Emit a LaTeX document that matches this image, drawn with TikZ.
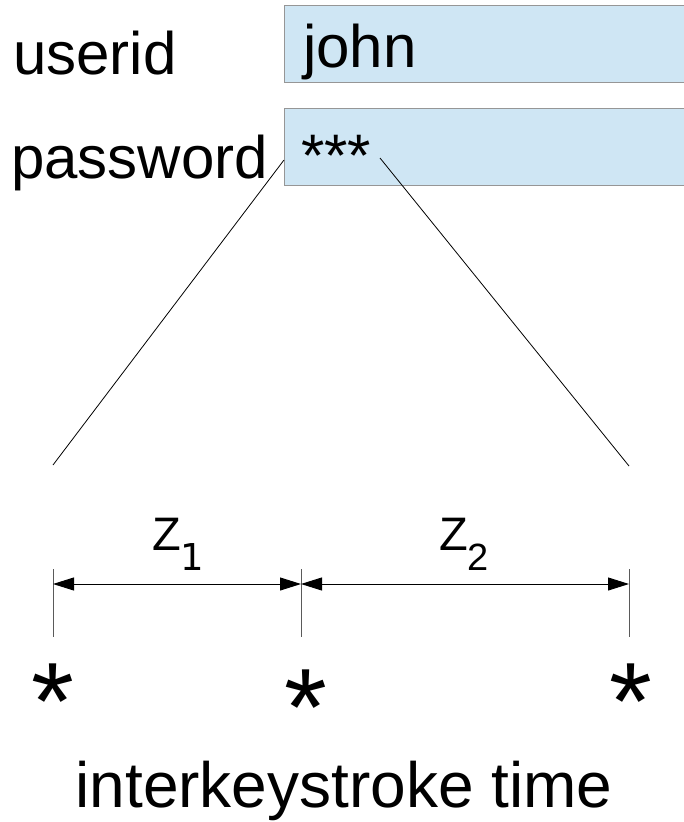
\documentclass[tikz,border=0pt]{standalone}
\usepackage{fontspec}
\setmainfont{Liberation Sans}
\newfontfamily\dejavu{DejaVu Sans}
\usetikzlibrary{arrows.meta}
\definecolor{fieldfill}{RGB}{207,230,244}
\definecolor{fieldedge}{RGB}{150,150,150}
\definecolor{tickgray}{RGB}{90,90,90}
\newcommand{\fsz}[1]{\fontsize{#1}{#1}\selectfont}
\begin{document}
\begin{tikzpicture}[x=1pt,y=-1pt,
  lbl/.style={inner sep=0pt,anchor=base west,font=\fsz{60}},
  field/.style={fill=fieldfill,inner sep=0pt,minimum width=400pt,minimum height=77pt,anchor=north west},
  fieldedge/.style={draw=fieldedge,line width=1pt},
  tick/.style={draw=tickgray,line width=1pt},
  dim/.style={line width=1pt,{Triangle[length=21pt,width=13pt]}-{Triangle[length=21pt,width=13pt]}},
  star/.style={inner sep=0pt,anchor=base,font=\fsz{110}},
  zlbl/.style={inner sep=0pt,anchor=base west,font=\fsz{47}}]
\useasboundingbox (0,0) rectangle (684,822);

% input fields (open on the right)
\node[field] (userbox) at (284,5) {};
\node[field] (passbox) at (284,108) {};
\draw[fieldedge] (userbox.north east) -- (userbox.north west) -- (userbox.south west) -- (userbox.south east);
\draw[fieldedge] (passbox.north east) -- (passbox.north west) -- (passbox.south west) -- (passbox.south east);

% field labels and contents
\node[lbl] (userid) at (13,74) {userid};
\node[lbl] (password) at (11,178) {password};
\node[lbl] (john) at (303,67) {john};
\node[lbl] (masked) at (301,176) {***};

% zoom lines from the masked entry down to the timeline
\coordinate (zl) at (53,465);
\coordinate (zr) at (629,466);
\coordinate (pl) at (284,160);
\coordinate (pr) at (380,158);
\draw[line width=0.8pt] (pl) -- (zl);
\draw[line width=0.8pt] (pr) -- (zr);

% keystroke ticks
\coordinate (t1a) at (53,569);  \coordinate (t1b) at (53,637);
\coordinate (t2a) at (301,569); \coordinate (t2b) at (301,637);
\coordinate (t3a) at (629,569); \coordinate (t3b) at (629,637);
\draw[tick] (t1a) -- (t1b);
\draw[tick] (t2a) -- (t2b);
\draw[tick] (t3a) -- (t3b);

% interval dimension arrows
\coordinate (d1) at (53,584);
\coordinate (d2) at (301,584);
\coordinate (d3) at (629,584);
\draw[dim] (d1) -- (d2);
\draw[dim] (d2) -- (d3);

% interval labels
\node[zlbl] (z1) at (152,550) {Z\raisebox{-20pt}{\dejavu\fsz{37}1}};
\node[zlbl] (z2) at (439,550) {Z\raisebox{-20pt}{\fsz{38}2}};

% keystrokes (the glyph sits high in its em box, so its depth is dropped)
\node[star] (k1) at (53,739) {\smash{*}};
\node[star] (k2) at (306,745) {\smash{*}};
\node[star] (k3) at (631,739) {\smash{*}};

% caption
\node[inner sep=0pt,anchor=base,font=\fsz{64}] (caption) at (344,807) {interkeystroke time};
\end{tikzpicture}
\end{document}
